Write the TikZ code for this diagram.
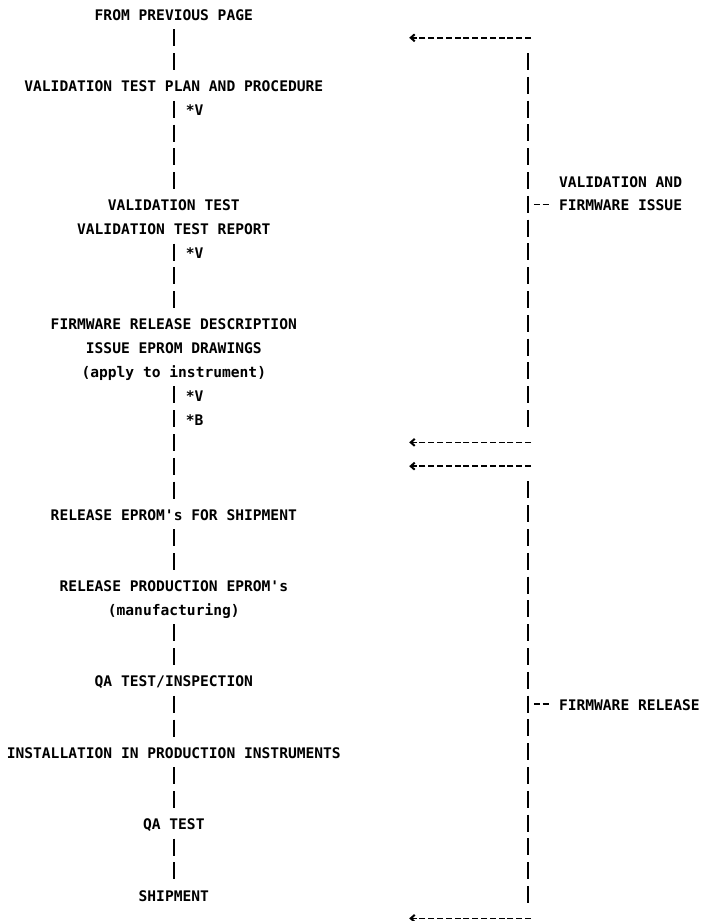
\documentclass[tikz,border=0pt]{standalone}
\usepackage{fontspec}
\setmonofont{DejaVu Sans Mono}
\usetikzlibrary{arrows.meta}
\tikzset{
  stage/.style={font=\ttfamily\bfseries\fontsize{14.6}{17}\selectfont,
    inner xsep=0pt, inner ysep=5.4pt, text height=13pt, text depth=0pt},
  note/.style={stage, anchor=west},
  side/.style={stage, anchor=west, inner xsep=8.8pt},
  bar/.style={line width=2pt, dash pattern=on 17pt off 6.8pt, dash phase=20.4pt},
  dashline/.style={line width=1.7pt, dash pattern=on 6pt off 2.8pt, dash phase=7.4pt},
  feed/.style={dashline, -{Straight Barb[length=4pt,width=7pt,line width=2pt]}}
}
\begin{document}
\begin{tikzpicture}[x=8.8pt,y=-23.8pt]
\useasboundingbox (0,-0.588) rectangle (80.57,38.11);
% main flow, one row per printed line
\node[stage] (from) at (19.75,0) {FROM PREVIOUS PAGE};
\node[stage] (plan) at (19.75,3) {VALIDATION TEST PLAN AND PROCEDURE};
\node[stage] (vtest) at (19.75,8) {VALIDATION TEST};
\node[stage] (report) at (19.75,9) {VALIDATION TEST REPORT};
\node[stage] (frdesc) at (19.75,13) {FIRMWARE RELEASE DESCRIPTION};
\node[stage] (issue) at (19.75,14) {ISSUE EPROM DRAWINGS};
\node[stage] (apply) at (19.75,15) {(apply to instrument)};
\node[stage] (relship) at (19.75,21) {RELEASE EPROM's FOR SHIPMENT};
\node[stage] (relprod) at (19.75,24) {RELEASE PRODUCTION EPROM's};
\node[stage] (manuf) at (19.75,25) {(manufacturing)};
\node[stage] (qainsp) at (19.75,28) {QA TEST/INSPECTION};
\node[stage] (install) at (19.75,31) {INSTALLATION IN PRODUCTION INSTRUMENTS};
\node[stage] (qatest) at (19.75,34) {QA TEST};
\node[stage] (ship) at (19.75,37) {SHIPMENT};
\draw[bar] (from) -- (plan);
\draw[bar] (plan) -- (vtest);
\draw[bar] (report) -- (frdesc);
\draw[bar] (apply) -- (relship);
\draw[bar] (relship) -- (relprod);
\draw[bar] (manuf) -- (qainsp);
\draw[bar] (qainsp) -- (install);
\draw[bar] (install) -- (qatest);
\draw[bar] (qatest) -- (ship);
\node[note] (v1) at (21.1,4) {*V};
\node[note] (v2) at (21.1,10) {*V};
\node[note] (v3) at (21.1,16) {*V};
\node[note] (b1) at (21.1,17) {*B};
% right hand brackets
\coordinate (top1) at (60,1.5);
\coordinate (bot1) at (60,17.5);
\coordinate (top2) at (60,19.5);
\coordinate (bot2) at (60,37.5);
\draw[bar] (top1) -- (bot1);
\draw[bar] (top2) -- (bot2);
\foreach \r in {1,18,19,38} {
  \coordinate (out\r) at (60.5,\r);
  \coordinate (in\r) at (46.5,\r);
  \draw[feed] (out\r) -- (in\r);
}
\node[side] (valand) at (62.5,7) {VALIDATION AND};
\node[side] (fwissue) at (62.5,8) {FIRMWARE ISSUE};
\node[side] (fwrel) at (62.5,29) {FIRMWARE RELEASE};
\coordinate (tick1) at (60.5,8);
\coordinate (tick2) at (60.5,29);
\draw[dashline] (tick1) -- (fwissue);
\draw[dashline] (tick2) -- (fwrel);
\end{tikzpicture}
\end{document}
